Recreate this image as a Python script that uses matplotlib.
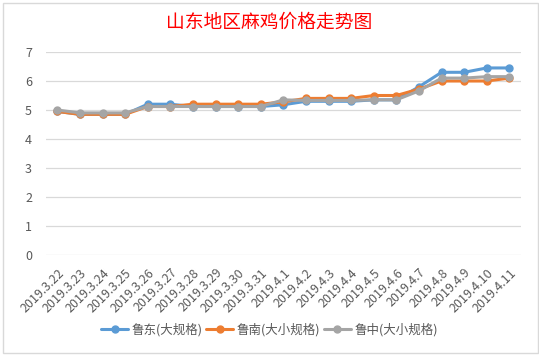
import matplotlib
matplotlib.use("Agg")
import matplotlib.pyplot as plt
from matplotlib.patches import Rectangle

plt.rcParams['font.family'] = ['Noto Sans CJK SC', 'DejaVu Sans']

dates = ["2019.3.22", "2019.3.23", "2019.3.24", "2019.3.25", "2019.3.26", "2019.3.27",
         "2019.3.28", "2019.3.29", "2019.3.30", "2019.3.31", "2019.4.1", "2019.4.2",
         "2019.4.3", "2019.4.4", "2019.4.5", "2019.4.6", "2019.4.7", "2019.4.8",
         "2019.4.9", "2019.4.10", "2019.4.11"]
ludong = [4.95, 4.85, 4.85, 4.85, 5.2, 5.2, 5.12, 5.12, 5.12, 5.12, 5.18, 5.3, 5.3, 5.3,
          5.35, 5.35, 5.8, 6.3, 6.3, 6.45, 6.45]
lunan = [4.95, 4.85, 4.85, 4.85, 5.12, 5.12, 5.2, 5.2, 5.2, 5.2, 5.28, 5.4, 5.4, 5.4,
         5.5, 5.5, 5.72, 6.0, 6.0, 6.0, 6.1]
luzhong = [5.0, 4.9, 4.9, 4.9, 5.12, 5.12, 5.12, 5.12, 5.12, 5.12, 5.35, 5.33, 5.33, 5.33,
           5.35, 5.35, 5.66, 6.1, 6.1, 6.15, 6.15]
series_names = ["鲁东(大规格)", "鲁南(大小规格)", "鲁中(大小规格)"]
colors = ["#5B9BD5", "#ED7D31", "#A5A5A5"]
title = "山东地区麻鸡价格走势图"

W, H = 539, 356
fig = plt.figure(figsize=(W / 100, H / 100), dpi=100)
fig.patches.append(Rectangle((2.5 / W, 3.5 / H), 535 / W, 349.5 / H, transform=fig.transFigure,
                             fill=False, edgecolor="#D9D9D9", linewidth=1.0))

ax = fig.add_axes([46 / W, 1 - 255 / H, 474.7 / W, 203 / H])
x = list(range(len(dates)))
for vals, name, c in zip([ludong, lunan, luzhong], series_names, colors):
    ax.plot(x, vals, color=c, linewidth=2.2, marker='o', markersize=5, label=name,
            solid_capstyle='round')

ax.set_xlim(-0.5, len(dates) - 0.5)
ax.set_ylim(0, 7)
ax.set_yticks(range(0, 8))
ax.yaxis.grid(True, color="#D9D9D9", linewidth=0.9)
ax.set_axisbelow(True)
for s in ax.spines.values():
    s.set_visible(False)
ax.tick_params(axis='both', length=0, colors="#595959", labelsize=9)
ax.tick_params(axis='y', pad=10)
ax.set_xticks(x)
ax.set_xticklabels(dates, rotation=45, ha='right', va='top', rotation_mode='anchor')
ax.tick_params(axis='x', pad=8)

fig.text(0.5, 1 - 22 / H, title, color="red", fontsize=13.5, ha='center', va='center')

handles, labels = ax.get_legend_handles_labels()
fig.legend(handles, labels, loc='center', bbox_to_anchor=(0.5, 1 - 330 / H), ncol=3,
           frameon=False, fontsize=9, handlelength=2.15, columnspacing=0.3,
           handletextpad=0.27, labelcolor="#595959")

fig.savefig("out.png", dpi=100)
